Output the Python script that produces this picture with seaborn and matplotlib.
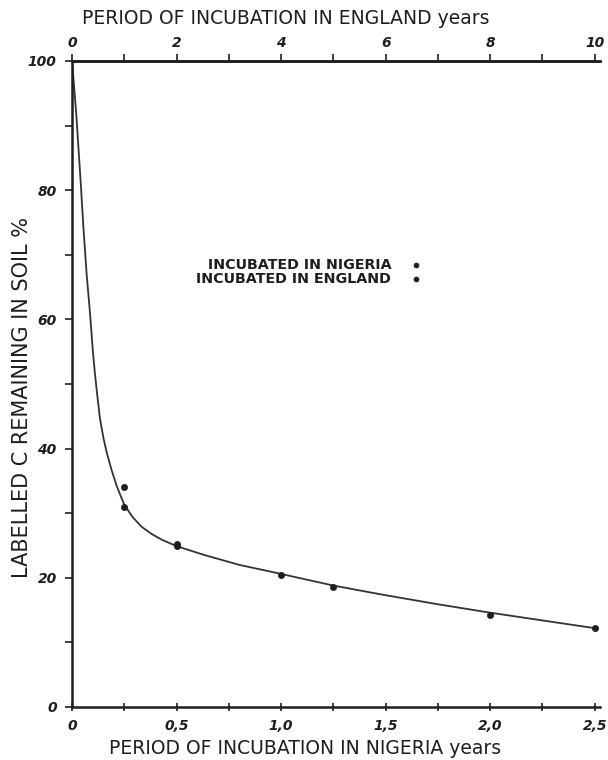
import numpy as np
import pandas as pd
import matplotlib
matplotlib.use("Agg")
import matplotlib.pyplot as plt
import seaborn as sns
from matplotlib.ticker import MultipleLocator

# ---- data ----
nigeria_years = [0.25, 0.5, 1.0, 2.0]
nigeria_pct = [31.0, 25.0, 20.5, 14.3]
england_years = [1, 2, 5, 10]
england_pct = [34.0, 25.3, 18.6, 12.2]

curve_years = [0, 0.01, 0.02, 0.03, 0.042, 0.055, 0.07, 0.086, 0.1, 0.11, 0.12,
               0.134, 0.15, 0.166, 0.19, 0.214, 0.25, 0.29, 0.333, 0.38, 0.429,
               0.5, 0.636, 0.8, 1.0, 1.25, 1.5, 1.75, 2.0, 2.25, 2.5]
curve_pct = [100, 96, 92, 87, 81, 74, 67, 61, 55, 51.5, 48.5,
             44.6, 41.7, 39.4, 36.6, 34.2, 31.3, 29.4, 27.9, 26.8, 25.9,
             24.9, 23.5, 22.0, 20.6, 18.8, 17.3, 15.9, 14.6, 13.4, 12.2]

sns.set_theme(style="ticks")
plt.rcParams['font.family'] = ['DejaVu Sans']

INK = "#1e1e1e"
fig = plt.figure(figsize=(6.08, 7.6), dpi=100)
ax = fig.add_axes([72/608, 53/760, 528/608, 646/760])

curve = pd.DataFrame({"t": curve_years, "p": curve_pct})
sns.lineplot(data=curve, x="t", y="p", ax=ax, color="#333333", lw=1.3, sort=False,
             legend=False)

nig = pd.DataFrame({"t": nigeria_years, "p": nigeria_pct})
eng = pd.DataFrame({"t": [y / 4 for y in england_years], "p": england_pct})
sns.scatterplot(data=nig, x="t", y="p", ax=ax, color=INK, s=20, marker="o",
                edgecolor=INK, linewidth=0.5, label="INCUBATED IN NIGERIA", zorder=5)
sns.scatterplot(data=eng, x="t", y="p", ax=ax, color=INK, s=20, marker="o",
                edgecolor=INK, linewidth=0.5, label="INCUBATED IN ENGLAND", zorder=5)

ax.set_xlim(0, 2.525)
ax.set_ylim(0, 100)

ax.spines["right"].set_visible(False)
for s in ["left", "bottom", "top"]:
    ax.spines[s].set_color(INK)
    ax.spines[s].set_linewidth(1.8)

tickfont = dict(fontsize=10, fontweight="bold", fontstyle="italic", color=INK)

ax.xaxis.set_minor_locator(MultipleLocator(0.25))
ax.set_xticks([0, 0.5, 1.0, 1.5, 2.0, 2.5])
ax.set_xticklabels(["0", "0,5", "1,0", "1,5", "2,0", "2,5"], **tickfont)
ax.yaxis.set_minor_locator(MultipleLocator(10))
ax.set_yticks([0, 20, 40, 60, 80, 100])
ax.set_yticklabels(["0", "20", "40", "60", "80", "100"], **tickfont)
ax.tick_params(axis="x", which="both", direction="inout", length=6, width=1.2,
               color=INK, pad=6)
ax.tick_params(axis="y", which="both", direction="out", length=5, width=1.2,
               color=INK, pad=6)

ax.set_xlabel("PERIOD OF INCUBATION IN NIGERIA years", fontsize=13.5, color=INK)
ax.xaxis.set_label_coords(305 / 608, (760 - 748) / 760, transform=fig.transFigure)
ax.xaxis.label.set_va("center")
ax.set_ylabel("LABELLED C REMAINING IN SOIL %", fontsize=15, color=INK)
ax.yaxis.set_label_coords(22 / 608, (760 - 397) / 760, transform=fig.transFigure)
ax.yaxis.label.set_va("center")

top = ax.secondary_xaxis("top", functions=(lambda x: x * 4, lambda x: x / 4))
top.set_xticks([0, 2, 4, 6, 8, 10])
top.set_xticklabels(["0", "2", "4", "6", "8", "10"], **tickfont)
top.xaxis.set_minor_locator(MultipleLocator(1))
top.tick_params(axis="x", which="both", direction="out", length=5, width=1.2,
                color=INK, pad=3)
top.spines["top"].set_color(INK)
top.spines["top"].set_linewidth(1.8)
top.set_xlabel("PERIOD OF INCUBATION IN ENGLAND years", fontsize=13.5, color=INK)
top.xaxis.set_label_coords(286 / 608, (760 - 18) / 760, transform=fig.transFigure)
top.xaxis.label.set_va("center")

leg = ax.legend(loc="upper right", bbox_to_anchor=(0.678, 0.706), frameon=False,
                markerfirst=False, prop=dict(size=10.3, weight="bold"),
                handletextpad=1.2, labelspacing=0.0, markerscale=0.8,
                alignment="right", handlelength=1.0, borderpad=0)
for t in leg.get_texts():
    t.set_color(INK)

fig.savefig("out.png", dpi=100, facecolor="white")
